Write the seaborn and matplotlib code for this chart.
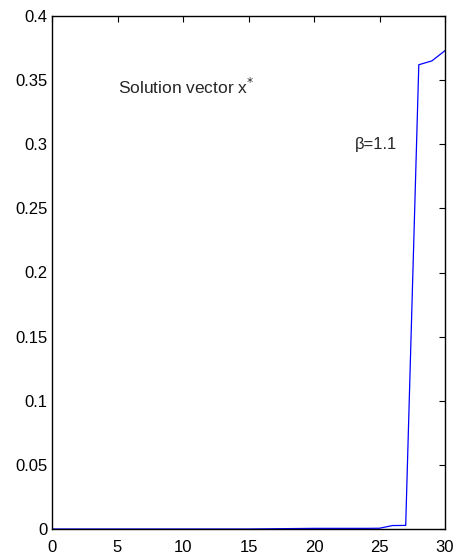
import matplotlib
matplotlib.use('Agg')
import matplotlib.pyplot as plt
import seaborn as sns
import pandas as pd

#%% data
index = list(range(0, 31))
solution = [0.0, 0.0, 0.0, 0.0, 0.0, 0.0, 0.0, 0.0, 0.0, 0.0,
            0.0, 0.0, 0.0, 0.0, 0.0, 0.0, 0.0001, 0.0002, 0.0003, 0.0004,
            0.0005, 0.0005, 0.0005, 0.0005, 0.0005, 0.0006, 0.0027, 0.0028,
            0.362, 0.365, 0.373]
x_ticks = [0, 5, 10, 15, 20, 25, 30]
y_ticks = [0, 0.05, 0.1, 0.15, 0.2, 0.25, 0.3, 0.35, 0.4]
y_ticklabels = ['0', '0.05', '0.1', '0.15', '0.2', '0.25', '0.3', '0.35', '0.4']

df = pd.DataFrame({'i': index, 'x': solution})

#%% make graph
sns.set_style('white')
plt.rcParams['font.family'] = ['Liberation Sans', 'DejaVu Sans']
fig = plt.figure(figsize=(4.55, 5.54), dpi=100)
ax = fig.add_axes([52 / 455, 1 - 529 / 554, (445 - 52) / 455, (529 - 16) / 554])

sns.lineplot(data=df, x='i', y='x', ax=ax, color='#0000ff', linewidth=0.9)

ax.set_xlim(0, 30)
ax.set_ylim(0, 0.4)
ax.set_xticks(x_ticks)
ax.set_yticks(y_ticks)
ax.set_yticklabels(y_ticklabels)
ax.set_xlabel('')
ax.set_ylabel('')
ax.tick_params(direction='in', length=4, width=0.8, labelsize=12,
               top=True, right=True, colors='black')
ax.tick_params(axis='x', pad=8)
ax.tick_params(axis='y', pad=3)
for s in ax.spines.values():
    s.set_visible(True)
    s.set_color('black')
    s.set_linewidth(1.0)

ax.text(5.0, 0.3446, 'Solution vector x$^{*}$', fontsize=12.5, va='center')
ax.text(23.1, 0.300, 'β=1.1', fontsize=12, va='center')

plt.savefig('out.png', dpi=100)
